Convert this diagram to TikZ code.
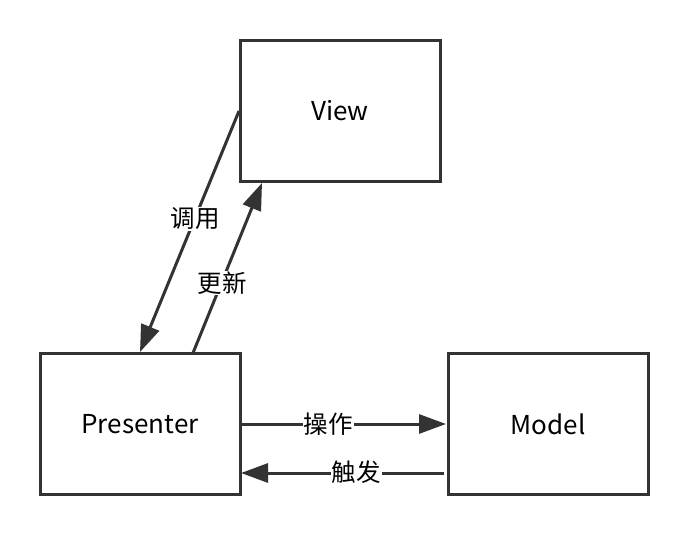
\documentclass[tikz,border=0pt]{standalone}
\usepackage{fontspec}
\setmainfont{Noto Sans CJK SC}
\usetikzlibrary{arrows.meta}
\definecolor{ink}{HTML}{333333}
\begin{document}
\begin{tikzpicture}[x=1pt,y=-1pt,
  box/.style={draw=ink,line width=3pt,minimum width=200pt,minimum height=141pt,inner sep=0pt,font=\fontsize{26}{30}\selectfont,text=black},
  conn/.style={draw=ink,line width=3pt,-{Triangle[length=27pt,width=19pt]}},
  lbl/.style={fill=white,inner sep=1pt,font=\fontsize{24.5}{28}\selectfont,text=black}]
\useasboundingbox (0,0) rectangle (688,534);
\node[box] (view) at (340,111) {View};
\node[box] (pres) at (140,424) {Presenter};
\node[box] (model) at (548,424) {Model};
\coordinate (a1s) at (239,111);
\coordinate (a1e) at (140,352);
\coordinate (a2s) at (193,353);
\coordinate (a2e) at (262,183);
\coordinate (h1s) at (241,424);
\coordinate (h1e) at (446,424);
\coordinate (h2s) at (444,473);
\coordinate (h2e) at (241,473);
\draw[conn] (a1s) -- (a1e);
\draw[conn] (a2s) -- (a2e);
\draw[conn] (h1s) -- (h1e);
\draw[conn] (h2s) -- (h2e);
\node[lbl] (l1) at (195,219) {调用};
\node[lbl] (l2) at (222,283) {更新};
\node[lbl] (l3) at (328,424) {操作};
\node[lbl] (l4) at (356,472) {触发};
\end{tikzpicture}
\end{document}
